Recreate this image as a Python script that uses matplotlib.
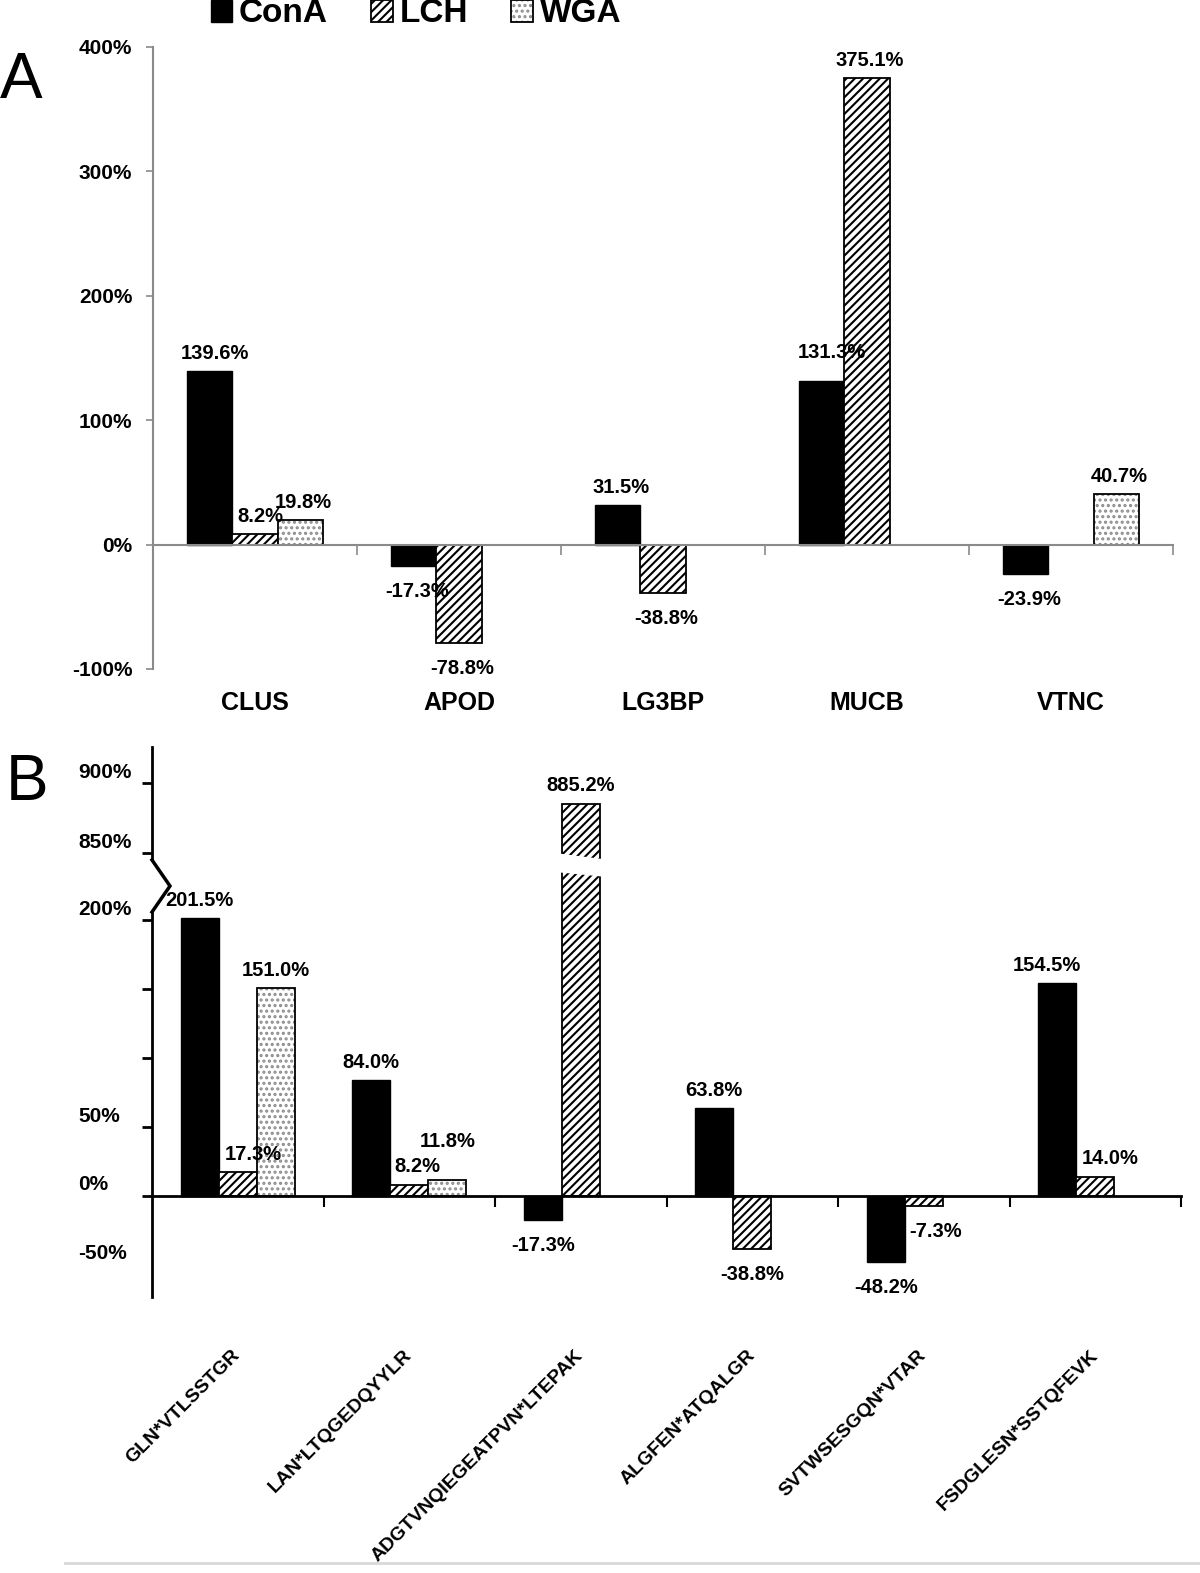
import numpy as np
import matplotlib
matplotlib.use('Agg')
import matplotlib.pyplot as plt
from matplotlib.lines import Line2D
from matplotlib.patches import Polygon, Patch
import matplotlib.transforms as mtransforms

plt.rcParams['font.family'] = ['Liberation Sans', 'DejaVu Sans']
plt.rcParams['font.weight'] = 'bold'
plt.rcParams['hatch.linewidth'] = 1.5

# ---------------- data ----------------
series = ['ConA', 'LCH', 'WGA']

proteins = ['CLUS', 'APOD', 'LG3BP', 'MUCB', 'VTNC']
a_cona = [139.6, -17.3, 31.5, 131.3, -23.9]
a_lch = [8.2, -78.8, -38.8, 375.1, np.nan]
a_wga = [19.8, np.nan, np.nan, np.nan, 40.7]
a_yticks = [-100, 0, 100, 200, 300, 400]

peptides = ['GLN*VTLSSTGR', 'LAN*LTQGEDQYYLR', 'ADGTVNQIEGEATPVN*LTEPAK',
            'ALGFEN*ATQALGR', 'SVTWSESGQN*VTAR', 'FSDGLESN*SSTQFEVK']
b_cona = [201.5, 84.0, -17.3, 63.8, -48.2, 154.5]
b_lch = [17.3, 8.2, 885.2, -38.8, -7.3, 14.0]
b_wga = [151.0, 11.8, np.nan, np.nan, np.nan, np.nan]
b_lower_ticks = [0, 50, 100, 150, 200]
b_upper_ticks = [850, 900]
b_tick_values = [900, 850, 200, 50, 0, -50]
b_tick_texts = ['900%', '850%', '200%', '50%', '0%', '-50%']

# ---------------- styles ----------------
W, H = 1200, 1573
DPI = 100
# each series: list of layered patch styles
styles = [
    [dict(facecolor='black', edgecolor='black', linewidth=1.0)],
    [dict(facecolor='white', edgecolor='black', hatch='////', linewidth=1.3)],
    [dict(facecolor='white', edgecolor='#8c8c8c', hatch='...', linewidth=0),
     dict(fill=False, edgecolor='black', linewidth=1.3)],
]
BW = 0.222
GREY = '#8a8a8a'
LBL = 14.5

# label nudges in pixels (dx, dy)
a_nudge = {(0, 0): (5, 0), (1, 0): (5, 0), (0, 3): (10, 11)}
b_nudge = {(1, 0): (16, 0), (1, 1): (8, 0), (2, 1): (0, 20), (1, 4): (12, 0),
           (1, 5): (15, 0), (0, 5): (-10, 0)}

fig = plt.figure(figsize=(W / DPI, H / DPI), dpi=DPI)


def fx(px):
    return px / W


def fy(py):
    return 1 - py / H


def draw_bars(ax, x, vals, k):
    for st in styles[k]:
        ax.bar(x, vals, BW, **st)


def label_bar(ax, x, v, nudge):
    dx, dy = nudge
    if v >= 0:
        ax.annotate(f'{v:.1f}%', xy=(x, v), xytext=(dx * 0.72, 6 + dy * 0.72),
                    textcoords='offset points', ha='center', va='bottom',
                    fontsize=LBL, fontweight='bold', annotation_clip=False)
    else:
        ax.annotate(f'{v:.1f}%', xy=(x, v), xytext=(dx * 0.72, -11.5 + dy * 0.72),
                    textcoords='offset points', ha='center', va='top',
                    fontsize=LBL, fontweight='bold', annotation_clip=False)


# ---------------- Panel A ----------------
axA = fig.add_axes([fx(153), fy(669), fx(1020), (669 - 47) / H])
xa = np.arange(len(proteins))
a_data = [a_cona, a_lch, a_wga]
for k, vals in enumerate(a_data):
    draw_bars(axA, xa + (k - 1) * BW, vals, k)
    for i, v in enumerate(vals):
        if not np.isnan(v):
            label_bar(axA, xa[i] + (k - 1) * BW, v, a_nudge.get((k, i), (3, 0)))
axA.set_xlim(-0.5, len(proteins) - 0.5)
axA.set_ylim(-100, 400)
axA.set_yticks(a_yticks)
axA.set_yticklabels([f'{t}%' for t in a_yticks], fontsize=15, fontweight='bold')
axA.tick_params(axis='y', direction='out', length=5, width=1.2, color=GREY, pad=10)
for s in ['top', 'right']:
    axA.spines[s].set_visible(False)
axA.spines['left'].set_color(GREY)
axA.spines['left'].set_linewidth(1.5)
axA.spines['bottom'].set_position(('data', 0))
axA.spines['bottom'].set_color(GREY)
axA.spines['bottom'].set_linewidth(1.5)
axA.set_xticks(np.arange(len(proteins)) + 0.5)
axA.set_xticklabels([])
axA.tick_params(axis='x', direction='out', length=7, width=1.2, color=GREY)
for i, p in enumerate(proteins):
    axA.text(i, -0.035, p, transform=axA.get_xaxis_transform(), ha='center',
             va='top', fontsize=18, fontweight='bold')

# ---------------- Panel B ----------------
b_left, b_width = fx(152), fx(1029)
s_lo = 1.378
lo_min = -(1297 - 1196) / s_lo
lo_max = (1196 - 865) / s_lo
s_hi = 1.4
hi_min = 850 - (865 - 853) / s_hi
hi_max = 900 + (783 - 747) / s_hi

axL = fig.add_axes([b_left, fy(1297), b_width, (1297 - 865) / H])
axU = fig.add_axes([b_left, fy(865), b_width, (865 - 747) / H])
for ax in (axL, axU):
    ax.patch.set_visible(False)
xb = np.arange(len(peptides))
b_data = [b_cona, b_lch, b_wga]
for ax in (axL, axU):
    for k, vals in enumerate(b_data):
        draw_bars(ax, xb + (k - 1) * BW, vals, k)
    ax.set_xlim(-0.5, len(peptides) - 0.5)
axL.set_ylim(lo_min, lo_max)
axU.set_ylim(hi_min, hi_max)

for k, vals in enumerate(b_data):
    for i, v in enumerate(vals):
        if not np.isnan(v):
            ax = axU if v > lo_max else axL
            label_bar(ax, xb[i] + (k - 1) * BW, v, b_nudge.get((k, i), (0, 0)))

for s in ['top', 'right']:
    axL.spines[s].set_visible(False)
    axU.spines[s].set_visible(False)
axU.spines['bottom'].set_visible(False)
axL.spines['left'].set_bounds(lo_min, (1196 - 912) / s_lo)
axL.spines['left'].set_linewidth(2)
axU.spines['left'].set_bounds(850 - (860 - 853) / s_hi, hi_max)
axU.spines['left'].set_linewidth(2)
axL.set_yticks(b_lower_ticks)
axU.set_yticks(b_upper_ticks)
for ax in (axL, axU):
    ax.tick_params(axis='y', direction='out', length=7, width=2, labelleft=False)
axU.set_xticks([])
axL.spines['bottom'].set_position(('data', 0))
axL.spines['bottom'].set_linewidth(2)
axL.set_xticks(np.arange(len(peptides)) + 0.5)
axL.set_xticklabels([])
axL.tick_params(axis='x', direction='out', length=8, width=1.5)

# y tick labels of panel B (left aligned text boxes)
for v, t in zip(b_tick_values, b_tick_texts):
    ax = axU if v > lo_max else axL
    tr = mtransforms.blended_transform_factory(fig.transFigure, ax.transData)
    tr = tr + mtransforms.ScaledTranslation(0, 11 / DPI, fig.dpi_scale_trans)
    ax.text(fx(78), v, t, transform=tr, ha='left', va='center', fontsize=15,
            fontweight='bold', clip_on=False)

# broken-axis zigzag
fig.add_artist(Line2D([fx(152), fx(170), fx(152)], [fy(912), fy(886), fy(860)],
                      color='black', lw=2.5, solid_joinstyle='miter'))

# white gap across the broken bar
trg = mtransforms.blended_transform_factory(axL.transData, fig.transFigure)
xc = 2
fig.add_artist(Polygon([(xc - 0.15, fy(853)), (xc + 0.15, fy(859.5)),
                        (xc + 0.15, fy(877)), (xc - 0.15, fy(872))],
                       closed=True, transform=trg, facecolor='white',
                       edgecolor='none', zorder=10))

# rotated category labels
trx = mtransforms.blended_transform_factory(axL.transData, fig.transFigure)
trx = trx + mtransforms.ScaledTranslation(6 / DPI, 0, fig.dpi_scale_trans)
for i, p in enumerate(peptides):
    axL.text(i, fy(1347), p, transform=trx, rotation=45, ha='right', va='top',
             fontsize=14, fontweight='bold', clip_on=False)

# panel letters
fig.text(fx(0), fy(98), 'A', fontsize=46, fontweight='normal', ha='left', va='baseline')
fig.text(fx(6), fy(800), 'B', fontsize=46, fontweight='normal', ha='left', va='baseline')

# legend
handles = [tuple(Patch(**st) for st in styles[k]) for k in range(3)]
fig.legend(handles, series, loc='center', bbox_to_anchor=(fx(416), fy(14)), ncol=3,
           frameon=False, prop=dict(size=24, weight='bold'), handlelength=0.65,
           handleheight=0.65, handletextpad=0.2, columnspacing=1.3,
           borderaxespad=0, borderpad=0)

# faint line at bottom edge
fig.add_artist(Line2D([fx(65), fx(1200)], [fy(1563), fy(1563)], color='#d8d8d8', lw=2))

fig.savefig('out.png', dpi=DPI)
